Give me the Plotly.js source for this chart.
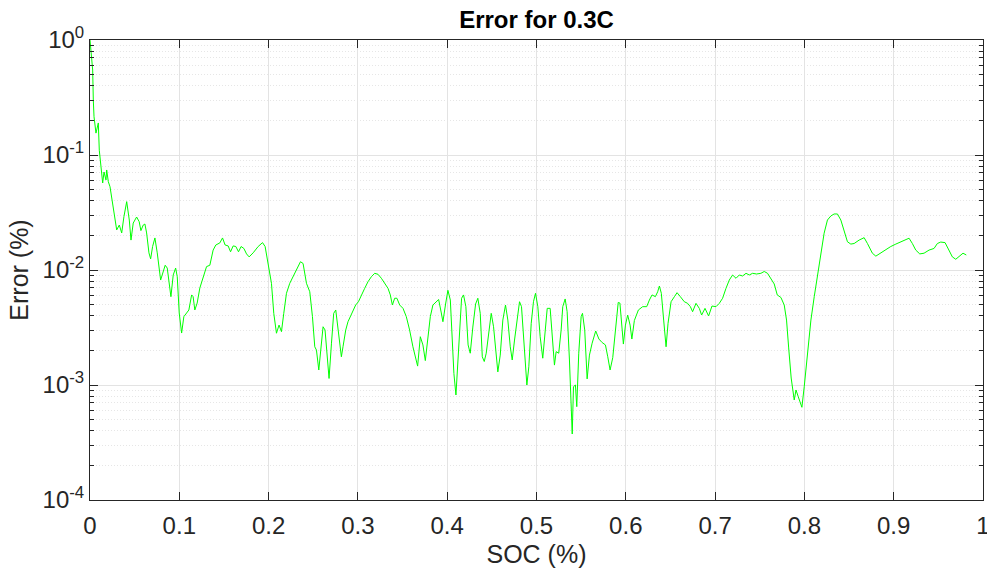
<!DOCTYPE html>
<html>
<head>
<meta charset="utf-8">
<script src="https://cdn.plot.ly/plotly-3.0.1.min.js"></script>
<style>html,body{margin:0;padding:0;background:#fff;}#chart{width:987px;height:571px;}</style>
</head>
<body>
<div id="chart"></div>
<script>
// SOC values (x)
const soc = [0,0.003,0.0037,0.0045,0.0067,0.0093,0.0104,0.0131,0.0142,0.0157,0.0179,0.0187,0.0205,0.0224,0.0243,0.0261,0.0299,0.0328,0.0355,0.038,0.0411,0.044,0.0459,0.0484,0.0522,0.0551,0.057,0.0596,0.0615,0.0634,0.066,0.0679,0.0701,0.0727,0.0753,0.0791,0.082,0.0842,0.0865,0.0887,0.0906,0.0932,0.0959,0.0977,0.0999,0.1026,0.1051,0.1082,0.1107,0.1138,0.1155,0.1174,0.12,0.123,0.1267,0.1305,0.1342,0.1379,0.1409,0.1454,0.1484,0.1513,0.1547,0.1574,0.1603,0.1633,0.1663,0.1692,0.1723,0.1753,0.1782,0.1827,0.1883,0.1932,0.1961,
0.1994,0.2032,0.2058,0.2088,0.2117,0.2144,0.217,0.22,0.2237,0.2274,0.2312,0.2357,0.2386,0.2424,0.2461,0.2491,0.2517,0.2536,0.2562,0.2584,0.261,0.2632,0.2654,0.2677,0.2704,0.2729,0.2752,0.2777,0.2796,0.2815,0.2833,0.2864,0.2889,0.2916,0.2945,0.2975,0.3006,0.3039,0.3076,0.3113,0.3151,0.3188,0.3225,0.3263,0.33,0.3337,0.3363,0.3386,0.3412,0.3437,0.3468,0.3505,0.3542,0.3579,0.3616,0.3647,0.3669,0.3699,0.3728,0.3755,0.3784,0.3811,0.384,0.3878,0.3904,0.3932,0.3952,0.3982,0.4008,0.4035,0.4057,0.4075,0.4098,0.4116,0.4144,0.4161,0.4183,0.4209,0.4234,0.4258,0.4287,0.4318,0.4343,
0.437,0.4393,0.4415,0.4437,0.4466,0.4493,0.4519,0.4549,0.4567,0.4594,0.4623,0.4653,0.4679,0.4706,0.4728,0.4754,0.478,0.481,0.4832,0.4855,0.4877,0.4892,0.4914,0.4941,0.4966,0.4989,0.5015,0.5041,0.507,0.5093,0.512,0.5153,0.5175,0.5201,0.522,0.5249,0.5276,0.5294,0.5321,0.5343,0.5369,0.5388,0.54,0.5414,0.5436,0.5451,0.5473,0.55,0.5515,0.554,0.5567,0.5593,0.5623,0.5663,0.5699,0.5735,0.5772,0.5798,0.5824,0.5854,0.5887,0.5915,0.5934,0.5947,0.5973,0.5996,0.6021,0.6048,0.6068,0.6096,0.6141,0.6189,0.6234,0.6264,0.6294,0.6331,0.6357,0.6376,0.6398,0.6424,0.6451,0.6473,0.6507,0.6544,0.6574,0.6611,0.6655,0.6692,0.6723,0.6748,0.6786,0.6823,0.6849,0.6887,0.6927,0.6965,
0.701,0.7047,0.7084,0.7122,0.7159,0.7196,0.7234,0.7271,0.7308,0.7346,0.7383,0.742,0.7464,0.7513,0.755,0.7587,0.7625,0.7662,0.7696,0.7737,0.7774,0.78,0.7824,0.7852,0.7886,0.7906,0.7931,0.7972,0.7998,0.8035,0.8073,0.811,0.8147,0.8185,0.8221,0.8258,0.8296,0.8333,0.837,0.8408,0.8445,0.8482,0.852,0.8557,0.8613,0.8669,0.8706,0.8761,0.88,0.8856,0.8911,0.8967,0.9024,0.906,0.9116,0.9172,0.9209,0.9247,0.9292,0.934,0.9396,0.9452,0.9489,0.9527,0.9575,0.962,0.9657,0.9695,0.9732,0.9776,0.9813];

// Error values (y)
const err = [1.0,0.548,0.301,0.215,0.155,0.19,0.11,0.0741,0.0571,0.0711,0.0607,0.0741,0.0586,0.053,0.0434,0.0332,0.0223,0.0246,0.021,0.0291,0.0393,0.0272,0.0182,0.0256,0.0289,0.0263,0.022,0.0246,0.0251,0.021,0.0141,0.0125,0.016,0.019,0.0141,0.00818,0.01,0.011,0.0104,0.00771,0.00586,0.00905,0.0104,0.00874,0.00423,0.00283,0.00393,0.00423,0.00449,0.00607,0.00586,0.00449,0.00516,0.00697,0.00851,0.0107,0.011,0.0149,0.0165,0.0172,0.019,0.0165,0.0162,0.0144,0.0162,0.016,0.0144,0.016,0.0154,0.0138,0.013,0.0141,0.016,0.0173,0.016,
0.0114,0.00766,0.0042,0.00282,0.00332,0.00291,0.0042,0.00627,0.00766,0.00874,0.0103,0.0118,0.0114,0.00766,0.00647,0.00393,0.00215,0.00201,0.00135,0.00215,0.00321,0.00301,0.00176,0.00114,0.00231,0.0042,0.00449,0.00301,0.00223,0.00176,0.00215,0.00301,0.00355,0.00393,0.00449,0.00496,0.0053,0.00607,0.00693,0.00791,0.00874,0.00936,0.00918,0.00847,0.00766,0.00693,0.00607,0.00496,0.00568,0.00568,0.00496,0.00464,0.00393,0.00301,0.00215,0.00165,0.00146,0.00263,0.00223,0.00163,0.00251,0.00393,0.00496,0.0053,0.00554,0.00431,0.00355,0.00506,0.00666,0.00548,0.00256,0.00126,0.000819,0.00146,0.00353,0.00568,0.00607,0.0048,0.00223,0.00189,0.00319,0.00506,0.00568,
0.0042,0.00176,0.0016,0.00189,0.00291,0.0042,0.00321,0.00176,0.0013,0.00182,0.00367,0.00496,0.00367,0.00215,0.00165,0.00246,0.00367,0.0053,0.0048,0.00246,0.0013,0.001,0.00144,0.00344,0.0053,0.00627,0.0048,0.00263,0.00171,0.00282,0.00464,0.00464,0.00282,0.00149,0.00195,0.00189,0.00301,0.0048,0.0056,0.00434,0.00165,0.000693,0.000375,0.000967,0.001,0.000648,0.00189,0.00393,0.0042,0.00301,0.00113,0.00182,0.00231,0.00295,0.00251,0.00234,0.00223,0.00176,0.00135,0.00173,0.00319,0.00522,0.00516,0.00393,0.00227,0.00332,0.00406,0.00332,0.00251,0.00364,0.00449,0.0048,0.0048,0.00548,0.00607,0.00586,0.00647,0.00726,0.00627,0.00367,0.00215,0.00344,0.0053,0.00586,0.00635,0.00586,0.0053,0.00513,0.0048,0.00434,0.00513,0.00464,0.00406,0.00464,0.00398,0.00486,
0.0048,0.00513,0.00568,0.00693,0.00818,0.00905,0.00847,0.00905,0.00887,0.00936,0.00905,0.00936,0.00923,0.00936,0.00971,0.00936,0.00851,0.00756,0.00607,0.00577,0.00496,0.00367,0.0021,0.00115,0.000741,0.000905,0.000791,0.00064,0.000967,0.00189,0.00367,0.00586,0.00874,0.014,0.0209,0.0272,0.0295,0.0307,0.0307,0.0272,0.0215,0.0176,0.0168,0.017,0.0182,0.0191,0.017,0.014,0.0132,0.0141,0.0151,0.016,0.0168,0.0173,0.018,0.0189,0.017,0.0149,0.0138,0.014,0.0149,0.0154,0.017,0.0175,0.0173,0.0149,0.013,0.0124,0.0132,0.014,0.0135];

// Tick labels
const xTickVals = [0,0.1,0.2,0.3,0.4,0.5,0.6,0.7,0.8,0.9,1];
const xTickText = ['0','0.1','0.2','0.3','0.4','0.5','0.6','0.7','0.8','0.9','1'];
const yTickVals = [1e-4,1e-3,1e-2,1e-1,1];
const yTickText = ['10<sup>-4</sup>','10<sup>-3</sup>','10<sup>-2</sup>','10<sup>-1</sup>','10<sup>0</sup>'];
const yMinorVals = [];
for (let e = -4; e < 0; e++) { for (let m = 2; m <= 9; m++) yMinorVals.push(m * Math.pow(10, e)); }

const FONT = '"Liberation Sans", Arial, Helvetica, sans-serif';
const AX = '#262626';

const trace = {
  x: soc, y: err, type: 'scatter', mode: 'lines',
  line: {color: '#00ff00', width: 1}, hoverinfo: 'skip'
};

const layout = {
  width: 987, height: 571,
  paper_bgcolor: '#ffffff', plot_bgcolor: '#ffffff',
  margin: {l: 90, r: 4, t: 40, b: 71, pad: 0},
  showlegend: false,
  font: {family: FONT, color: AX, size: 24},
  title: {text: '<b>Error for 0.3C</b>', font: {family: FONT, size: 24, color: '#000'}, x: 0.5, xref: 'paper', xanchor: 'center', y: 0.965, yref: 'container', yanchor: 'middle'},
  xaxis: {
    range: [0, 1], tickmode: 'array', tickvals: xTickVals, ticktext: xTickText,
    ticks: 'inside', ticklen: 8, tickwidth: 1, tickcolor: AX,
    showline: true, linecolor: AX, linewidth: 1, mirror: 'ticks',
    showgrid: true, gridcolor: '#e3e3e3', gridwidth: 1, zeroline: false,
    ticklabeloverflow: 'allow', ticklabelstandoff: 4,
    tickfont: {family: FONT, size: 24, color: AX},
    title: {text: 'SOC (%)', font: {family: FONT, size: 25, color: AX}, standoff: 7}
  },
  yaxis: {
    type: 'log', range: [-4, 0], tickmode: 'array', tickvals: yTickVals, ticktext: yTickText,
    ticks: 'inside', ticklen: 8, tickwidth: 1, tickcolor: AX,
    showline: true, linecolor: AX, linewidth: 1, mirror: 'ticks',
    showgrid: true, gridcolor: '#e3e3e3', gridwidth: 1, zeroline: false,
    ticklabeloverflow: 'allow',
    tickfont: {family: FONT, size: 24, color: AX},
    minor: {tickmode: 'array', tickvals: yMinorVals, ticks: 'inside', ticklen: 4, tickcolor: AX,
            showgrid: true, gridcolor: '#e6e6e6', griddash: '1px,2px', gridwidth: 1},
    title: {text: 'Error (%)', font: {family: FONT, size: 25, color: AX}, standoff: 6}
  }
};

Plotly.newPlot('chart', [trace], layout, {staticPlot: true, displayModeBar: false});
</script>
</body>
</html>
